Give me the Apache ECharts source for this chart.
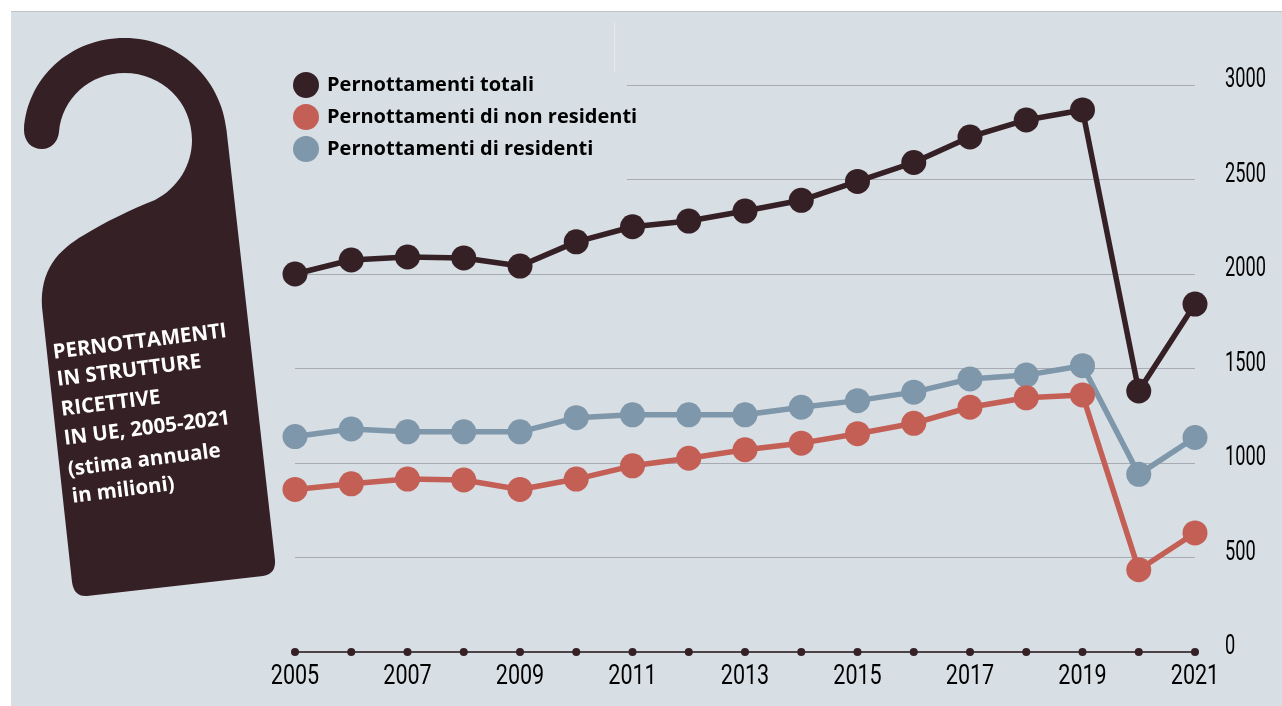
<!DOCTYPE html>
<html>
<head>
<meta charset="utf-8">
<title>Pernottamenti in strutture ricettive in UE</title>
<script src="https://cdn.jsdelivr.net/npm/echarts@6/dist/echarts.min.js"></script>
<style>
  html, body { margin: 0; padding: 0; background: #fff; overflow: hidden; }
  #panel { position: absolute; left: 11px; top: 11px; width: 1271px; height: 695px; background: #d7dee4; border-top: 1px solid #bfc3c8; box-sizing: border-box; }
  #myChart { position: absolute; left: 0; top: 0; width: 1282px; height: 706px; }
</style>
</head>
<body>
<div id="panel"></div>
<div id="myChart"></div>
<script>
// dati
const years = ['2005','2006','2007','2008','2009','2010','2011','2012','2013','2014','2015','2016','2017','2018','2019','2020','2021']
const yearLabels = ['2005','2007','2009','2011','2013','2015','2017','2019','2021']
const valueLabels = [0,500,1000,1500,2000,2500,3000]
const totali = [2000,2074,2090,2085,2042,2170,2250,2280,2333,2390,2490,2590,2725,2815,2868,1381,1841]
const nonResidenti = [860,890,915,910,860,915,985,1025,1070,1105,1155,1210,1295,1345,1360,435,630]
const residenti = [1140,1180,1165,1165,1165,1240,1255,1255,1255,1295,1330,1375,1445,1465,1515,940,1135]
const axisDots = [0,0,0,0,0,0,0,0,0,0,0,0,0,0,0,0,0]
const titleLines = ['PERNOTTAMENTI','IN STRUTTURE','RICETTIVE','IN UE, 2005-2021','(stima annuale','in milioni)']
const titleX = [53,57,61,64,68,72]
const titleY = [353,380,410,439,470,497]

const DARK = '#352025'
const RED = '#c45f55'
const BLUE = '#7f97aa'
const BG = '#d7dee4'

// sagoma del cartellino da porta
const hangerPath = 'M24 130 C27 78 70 38 124.5 38 C178 38 221 78 226.5 130 L275 560 Q276 574 263 576 L87 596 Q74 597 72 582 L42 307 C40 270 58 250 84 235 C105 222 130 210 155 200 C178 188 192 165 192 140 C192 102 162 73 124.5 73 C90 73 62 98 59 132 C58 142 51 149 42 149 C31 149 24 141 24 130 Z'
echarts.graphic.registerShape('hanger', echarts.graphic.extendPath(hangerPath, {}))

function lineSeries(name, values, color) {
  return {
    name: name,
    type: 'line',
    data: values,
    symbol: 'circle',
    symbolSize: 25,
    z: 3,
    itemStyle: { color: color },
    lineStyle: { color: color, width: 5.5 }
  }
}

const myChart = echarts.init(document.getElementById('myChart'))
myChart.setOption({
  animation: false,
  textStyle: { fontFamily: '"Open Sans", sans-serif' },
  grid: { left: 295, right: 87, top: 85, bottom: 54, outerBoundsMode: 'none' },
  legend: {
    data: ['Pernottamenti totali', 'Pernottamenti di non residenti', 'Pernottamenti di residenti'],
    orient: 'vertical',
    left: 293,
    top: 72,
    padding: 0,
    icon: 'circle',
    itemWidth: 26,
    itemHeight: 26,
    itemGap: 6,
    selectedMode: false,
    textStyle: { color: '#000', fontSize: 20, fontWeight: 'bold', fontFamily: '"Open Sans", sans-serif', padding: [0, 0, 0, 3] }
  },
  xAxis: {
    type: 'category',
    boundaryGap: false,
    data: years,
    axisLine: { lineStyle: { color: '#4d4347', width: 2 } },
    axisTick: { show: false },
    axisLabel: { show: false }
  },
  yAxis: {
    type: 'value',
    position: 'right',
    min: 0,
    max: 3000,
    interval: 500,
    axisLine: { show: false },
    axisTick: { show: false },
    axisLabel: { show: false },
    splitLine: { lineStyle: { color: '#a7abb1', width: 1 } }
  },
  series: [
    { name: 'asse', type: 'scatter', data: axisDots, symbol: 'circle', symbolSize: 8, z: 2, silent: true, itemStyle: { color: DARK, opacity: 1 } },
    lineSeries('Pernottamenti totali', totali, DARK),
    lineSeries('Pernottamenti di residenti', residenti, BLUE),
    lineSeries('Pernottamenti di non residenti', nonResidenti, RED)
  ]
})

// le etichette del riferimento sono in carattere condensato: non c'e' un font cosi',
// quindi testo stretto con scaleX, posizionato con le scale degli assi
function tickText(text, x, y, scaleX, align) {
  return {
    type: 'text',
    z: 6,
    silent: true,
    x: x,
    y: y,
    scaleX: scaleX,
    style: { text: text, fill: '#000', fontSize: 28, fontFamily: 'Roboto, sans-serif', align: align, verticalAlign: 'middle' }
  }
}

const xTickTexts = yearLabels.map(function (y) {
  return tickText(y, myChart.convertToPixel({ xAxisIndex: 0 }, y), 677, 0.77, 'center')
})
const yTickTexts = valueLabels.map(function (v) {
  return tickText(String(v), 1225, myChart.convertToPixel({ yAxisIndex: 0 }, v) - 5, 0.65, 'left')
})
const titleTexts = titleLines.map(function (line, i) {
  return {
    type: 'text',
    z: 6,
    silent: true,
    x: titleX[i],
    y: titleY[i],
    rotation: 0.125,
    style: { text: line, fill: '#fff', fontSize: 20.5, fontWeight: 'bold', fontFamily: '"Open Sans", sans-serif', align: 'left', verticalAlign: 'middle' }
  }
})

myChart.setOption({
  graphic: {
    elements: [
      // copre le griglie dietro la legenda
      { type: 'rect', z: 1, silent: true, shape: { x: 285, y: 80, width: 342, height: 105 }, style: { fill: BG } },
      { type: 'line', z: 1, silent: true, shape: { x1: 614.5, y1: 22, x2: 614.5, y2: 72 }, style: { stroke: '#e6eaee', lineWidth: 1 } },
      { type: 'hanger', z: 5, silent: true, style: { fill: DARK } }
    ].concat(titleTexts, xTickTexts, yTickTexts)
  }
})
</script>
</body>
</html>
